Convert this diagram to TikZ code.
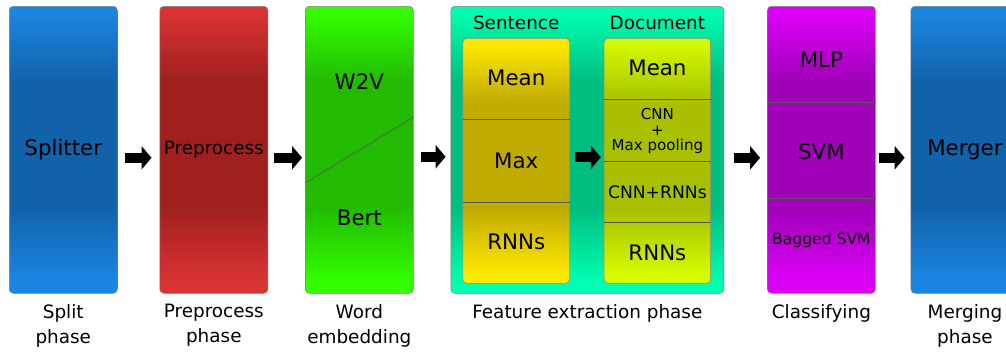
\documentclass[tikz,border=0pt]{standalone}
\usepackage{fontspec}
\setmainfont{DejaVu Sans}
\usetikzlibrary{positioning,calc,arrows.meta}

\definecolor{bluelite}{HTML}{1A86E2}
\definecolor{bluedark}{HTML}{1262AA}
\definecolor{redlite}{HTML}{DB3232}
\definecolor{reddark}{HTML}{A02020}
\definecolor{greenlite}{HTML}{33FF00}
\definecolor{greendark}{HTML}{22BB00}
\definecolor{teallite}{HTML}{00FFB0}
\definecolor{tealdark}{HTML}{00BE80}
\definecolor{yellowlite}{HTML}{FFE800}
\definecolor{yellowdark}{HTML}{C0AC00}
\definecolor{limelite}{HTML}{D4FA00}
\definecolor{limedark}{HTML}{A8C000}
\definecolor{purplelite}{HTML}{DD00F8}
\definecolor{purpledark}{HTML}{A000B8}

\pgfdeclareverticalshading[glosslite,glossdark]{glossy}{100bp}{%
  color(0bp)=(glosslite); color(27bp)=(glosslite); color(40bp)=(glossdark);
  color(62bp)=(glossdark); color(74bp)=(glosslite); color(100bp)=(glosslite)}

\begin{document}
\begin{tikzpicture}[x=0.75pt,y=-0.75pt]
  \useasboundingbox (0,0) rectangle (1006,354);
  \begin{scope}[
    every node/.style={
      inner sep=0pt,
      text=black,
    },
    phase/.style={
      rectangle,
      draw=black!50,
      rounded corners=3pt,
      minimum width=81pt,
      minimum height=215.25pt,
    },
    inbox/.style={
      rectangle,
      draw=black!45,
      rounded corners=3pt,
      minimum width=80pt,
      minimum height=183.75pt,
    },
    setanchor/.style={
      anchor=north west,
    },
    glossy/.style 2 args={
      /utils/exec={\colorlet{glosslite}{#1}\colorlet{glossdark}{#2}},
      shade,
      shading=glossy,
    },
    bigtext/.style={font=\fontsize{16}{19}\selectfont},
    midtext/.style={font=\fontsize{13.8}{18.75}\selectfont},
    smalltext/.style={font=\fontsize{11.3}{11.6}\selectfont},
    phaselabel/.style={
      midtext,
      align=center,
      below=8pt of #1.south,
    },
    cellline/.style={
      draw=black!65,
      line width=0.5pt,
    },
    ]
    % Splitter
    \node [phase,glossy={bluelite}{bluedark},setanchor,bigtext] (split) at (9,6) {Splitter};
    \node [phaselabel=split] (splitlbl) {Split\\phase};

    % Preprocess
    \node [phase,glossy={redlite}{reddark},right=31.5pt of split.north east,setanchor,midtext] (prep) {Preprocess};
    \node [phaselabel=prep] (preplbl) {Preprocess\\phase};

    % Word embedding
    \node [phase,glossy={greenlite}{greendark},right=27.75pt of prep.north east,setanchor] (word) {};
    \node [bigtext] (w2v) at (word.north |- 0,82) {W2V};
    \node [bigtext] (bert) at (word.north |- 0,218) {Bert};
    \draw [cellline] (word.west |- 0,183) -- (word.east |- 0,117);
    \node [phaselabel=word] (wordlbl) {Word\\embedding};

    % Feature extraction
    \node [phase,glossy={teallite}{tealdark},right=27.75pt of word.north east,setanchor,minimum width=204.75pt] (feat) {};
    \node [phaselabel=feat] (featlbl) {Feature extraction phase};

    % Sentence
    \node [inbox,glossy={yellowlite}{yellowdark},setanchor] (sent) at ($(feat.north west)+(12,32)$) {};
    \node [midtext,above=6pt of sent.north] (senttitle) {Sentence};
    \node [bigtext] (smean) at (sent.north |- 0,78) {Mean};
    \node [bigtext] (smax) at (sent.north |- 0,161) {Max};
    \node [bigtext] (srnn) at (sent.north |- 0,242) {RNNs};
    \draw [cellline] (sent.west |- 0,119) -- (sent.east |- 0,119);
    \draw [cellline] (sent.west |- 0,202) -- (sent.east |- 0,202);

    % Document
    \node [inbox,glossy={limelite}{limedark},right=25.5pt of sent.north east,setanchor] (doc) {};
    \node [midtext,above=6pt of doc.north] (doctitle) {Document};
    \node [bigtext] (dmean) at (doc.north |- 0,68) {Mean};
    \node [smalltext,align=center] (dcnn) at (doc.north |- 0,131) {CNN\\+\\Max pooling};
    \node [font=\fontsize{12.9}{15}\selectfont] (dcnnrnn) at (doc.north |- 0,192) {CNN+RNNs};
    \node [bigtext] (drnn) at (doc.north |- 0,253) {RNNs};
    \draw [cellline] (doc.west |- 0,99) -- (doc.east |- 0,99);
    \draw [cellline] (doc.west |- 0,161) -- (doc.east |- 0,161);
    \draw [cellline] (doc.west |- 0,222) -- (doc.east |- 0,222);

    % Classifying
    \node [phase,glossy={purplelite}{purpledark},right=32.25pt of feat.north east,setanchor] (class) {};
    \node [bigtext] (mlp) at (class.north |- 0,60) {MLP};
    \node [bigtext] (svm) at (class.north |- 0,152) {SVM};
    \node [font=\fontsize{11.7}{14}\selectfont] (bagsvm) at (class.north |- 0,240) {Bagged SVM};
    \draw [cellline] (class.west |- 0,102) -- (class.east |- 0,102);
    \draw [cellline] (class.west |- 0,198) -- (class.east |- 0,198);
    \node [phaselabel=class] (classlbl) {Classifying};

    % Merger
    \node [phase,glossy={bluelite}{bluedark},right=26.25pt of class.north east,setanchor,bigtext] (merge) {Merger};
    \node [phaselabel=merge] (mergelbl) {Merging\\phase};
  \end{scope}
  \begin{scope}[
    myarrow/.style={
      -{Triangle[length=7.5pt,width=17.25pt]},
      line width=7.5pt,
      black,
    },
    ]
    \draw [myarrow] ($(split.east)+(7,8)$) -- ($(prep.west)+(-8,8)$);
    \draw [myarrow] ($(prep.east)+(6,8)$) -- ($(word.west)+(-3,8)$);
    \draw [myarrow] ($(word.east)+(7,7)$) -- ($(feat.west)+(-5,7)$);
    \draw [myarrow] ($(sent.east)+(5,-3.5)$) -- ($(doc.west)+(-3,-3.5)$);
    \draw [myarrow] ($(feat.east)+(10,8)$) -- ($(class.west)+(-7,8)$);
    \draw [myarrow] ($(class.east)+(3,8)$) -- ($(merge.west)+(-6,8)$);
  \end{scope}
\end{tikzpicture}
\end{document}
